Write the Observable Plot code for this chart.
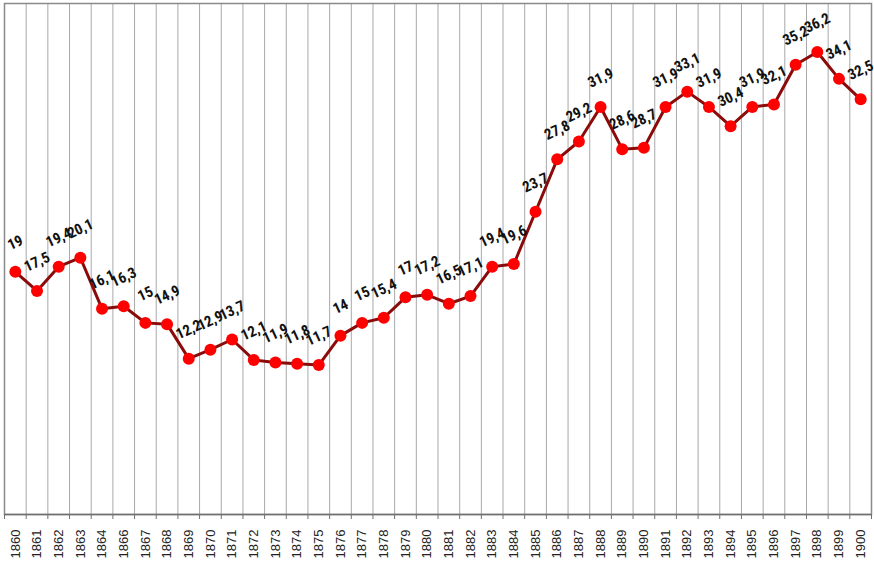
<!DOCTYPE html>
<html>
<head>
<meta charset="utf-8">
<script src="https://cdn.jsdelivr.net/npm/d3@7"></script>
<script src="https://cdn.jsdelivr.net/npm/@observablehq/plot@0.6"></script>
<style>
  html, body { margin: 0; padding: 0; background: #fff; }
  #chart svg { display: block; }
</style>
</head>
<body>
<div id="chart"></div>
<script>
const years = ["1860","1861","1862","1863","1864","1866","1867","1868","1869","1870",
  "1871","1872","1873","1874","1875","1876","1877","1878","1879","1880",
  "1881","1882","1883","1884","1885","1886","1887","1888","1889","1890",
  "1891","1892","1893","1894","1895","1896","1897","1898","1899","1900"];
const values = [19, 17.5, 19.4, 20.1, 16.1, 16.3, 15, 14.9, 12.2, 12.9,
  13.7, 12.1, 11.9, 11.8, 11.7, 14, 15, 15.4, 17, 17.2,
  16.5, 17.1, 19.4, 19.6, 23.7, 27.8, 29.2, 31.9, 28.6, 28.7,
  31.9, 33.1, 31.9, 30.4, 31.9, 32.1, 35.2, 36.2, 34.1, 32.5];

const data = years.map((y, i) => ({i, year: y, value: values[i]}));
const idx = data.map(d => d.i);
const bounds = idx.slice(0, -1).map(i => i + 0.5);
const edges = [-0.5, ...bounds, years.length - 0.5];

const chart = Plot.plot({
  width: 874,
  height: 561,
  marginLeft: 4,
  marginRight: 3,
  marginTop: 3,
  marginBottom: 47,
  style: {background: "#fff", fontFamily: "'Liberation Sans', Arial, sans-serif", overflow: "hidden"},
  x: {type: "linear", domain: [-0.5, years.length - 0.5], axis: null},
  y: {domain: [0, 40], axis: null},
  marks: [
    Plot.ruleX(bounds, {stroke: "#a8a8a8", strokeWidth: 1}),
    Plot.frame({stroke: "#8a8a8a", strokeWidth: 1.5}),
    Plot.ruleY([0], {stroke: "#707070", strokeWidth: 1.5}),
    Plot.axisX({ticks: edges, tickSize: 5, tickFormat: () => "", stroke: "#707070", label: null}),
    Plot.axisX({ticks: idx, tickSize: 0, tickPadding: 15, tickRotate: -90, label: null,
      tickFormat: i => years[i], fontSize: 13, fill: "#222"}),
    Plot.line(data, {x: "i", y: "value", stroke: "#8b0a0a", strokeWidth: 3}),
    Plot.dot(data, {x: "i", y: "value", r: 6, fill: "#ff0000", stroke: "none"}),
    Plot.text(data, {x: "i", y: "value", text: d => String(d.value).replace(".", ","),
      dy: -29, rotate: -25, fontSize: 15, fontWeight: "bold", fill: "#111",
      fontFamily: "'Liberation Sans Narrow', 'Arial Narrow', 'Roboto Condensed', 'Liberation Sans', sans-serif"})
  ]
});
document.getElementById("chart").appendChild(chart);
</script>
</body>
</html>
